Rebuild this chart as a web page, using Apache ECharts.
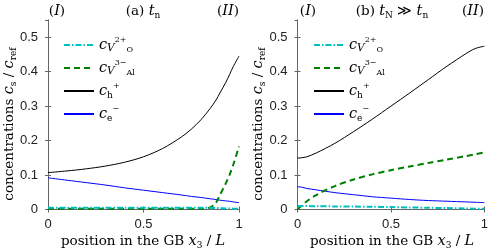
<!DOCTYPE html>
<html><head><meta charset="utf-8">
<script src="https://cdn.jsdelivr.net/npm/echarts@6/dist/echarts.min.js"></script>
<style>html,body{margin:0;padding:0;background:#fff}#c{width:491px;height:250px}</style>
</head><body><div id="c"></div>
<script>
// ---- data ----
const xA = [0, 0.1, 0.2, 0.3, 0.4, 0.5, 0.6, 0.7, 0.75, 0.8, 0.85, 0.88, 0.9, 0.93, 0.95, 0.97, 1.0];
const hA = [0.107, 0.112, 0.118, 0.126, 0.137, 0.153, 0.177, 0.211, 0.233, 0.26, 0.294, 0.318, 0.338, 0.368, 0.391, 0.415, 0.445];
const eA = [0.092, 0.085, 0.078, 0.071, 0.063, 0.056, 0.049, 0.042, 0.038, 0.035, 0.031, 0.029, 0.027, 0.025, 0.024, 0.022, 0.020];
const alA = [0.002, 0.002, 0.002, 0.002, 0.002, 0.002, 0.002, 0.002, 0.002, 0.002, 0.006, 0.02, 0.042, 0.075, 0.10, 0.13, 0.183];
const oA = [0.005, 0.005, 0.005, 0.005, 0.005, 0.005, 0.005, 0.005, 0.005, 0.005, 0.0045, 0.004, 0.004, 0.003, 0.003, 0.0025, 0.002];

const xB = [0, 0.02, 0.05, 0.1, 0.2, 0.3, 0.4, 0.5, 0.6, 0.7, 0.8, 0.9, 0.95, 1.0];
const hB = [0.149, 0.150, 0.153, 0.164, 0.192, 0.226, 0.262, 0.300, 0.338, 0.377, 0.416, 0.452, 0.467, 0.474];
const alB = [0.0, 0.010, 0.024, 0.042, 0.068, 0.087, 0.102, 0.114, 0.125, 0.135, 0.145, 0.155, 0.160, 0.166];
const eB = [0.066, 0.065, 0.061, 0.057, 0.049, 0.043, 0.037, 0.033, 0.029, 0.026, 0.024, 0.022, 0.021, 0.020];
const oB = [0.010, 0.010, 0.010, 0.0095, 0.009, 0.0085, 0.008, 0.007, 0.006, 0.005, 0.004, 0.003, 0.0025, 0.002];

const xMin = 0, xMax = 1, xStep = 0.5;
const yMin = 0, yMax = 0.55, yStep = 0.1;
const seriesNames = ['VO', 'VAl', 'h', 'e'];
const panelTitles = ['(a)', '(b)'];

// ---- styles ----
const SERIF = 'DejaVu Serif';
const SANS = 'Liberation Sans';
const rich = {
  n: {fontFamily: SERIF, fontSize: 13.5, color: '#000', lineHeight: 18, verticalAlign: 'middle'},
  i: {fontFamily: SERIF, fontStyle: 'italic', fontSize: 14.5, color: '#000', lineHeight: 18, verticalAlign: 'middle'},
  si: {fontFamily: SERIF, fontStyle: 'italic', fontSize: 10.5, color: '#000', lineHeight: 13, verticalAlign: 'bottom'},
  s: {fontFamily: SERIF, fontSize: 9, color: '#000', lineHeight: 11, verticalAlign: 'bottom'},
  sup: {fontFamily: SERIF, fontSize: 8, color: '#000', lineHeight: 13, verticalAlign: 'top'},
  sub2: {fontFamily: SERIF, fontSize: 8, color: '#000', lineHeight: 8, verticalAlign: 'bottom'}
};
const legendText = {
  VO: '{i|c}{si|V}{sup|2+}{sub2|O}',
  VAl: '{i|c}{si|V}{sup|3−}{sub2|Al}',
  h: '{i|c}{s|h}{sup|+}',
  e: '{i|c}{s|e}{sup|−}'
};
const colors = {VO: '#00BFBF', VAl: '#008000', h: '#000000', e: '#0000FF'};
const lstyle = {
  VO: {width: 2, type: [6, 2, 1.5, 2]},
  VAl: {width: 2, type: [6, 4]},
  h: {width: 1, type: 'solid'},
  e: {width: 1, type: 'solid'}
};

const grids = [
  {left: 48, top: 20, width: 191, height: 189.5},
  {left: 297.5, top: 20, width: 190, height: 189.5}
];
const axisCol = '#666';
function xAxes(gi) {
  return [
    {type: 'value', gridIndex: gi, min: xMin, max: xMax, interval: xStep, position: 'bottom',
     axisLine: {show: true, lineStyle: {color: axisCol, width: 1}},
     axisTick: {show: true, inside: true, length: 3, lineStyle: {color: axisCol}},
     axisLabel: {fontFamily: SANS, fontSize: 13, color: '#222', margin: 8},
     splitLine: {show: false}},
    {type: 'value', gridIndex: gi, min: xMin, max: xMax, interval: xStep, position: 'top',
     axisLine: {show: true, lineStyle: {color: axisCol, width: 1}},
     axisTick: {show: true, inside: true, length: 3, lineStyle: {color: axisCol}},
     axisLabel: {show: false}, splitLine: {show: false}}
  ];
}
function yAxes(gi) {
  return [
    {type: 'value', gridIndex: gi, min: yMin, max: yMax, interval: yStep, position: 'left',
     axisLine: {show: true, lineStyle: {color: axisCol, width: 1}},
     axisTick: {show: true, inside: true, length: 3, lineStyle: {color: axisCol}},
     axisLabel: {fontFamily: SANS, fontSize: 13, color: '#222', margin: 10, showMaxLabel: false,
       formatter: v => (v > 0.5001 ? '' : String(+v.toFixed(2)))},
     splitLine: {show: false}},
    {type: 'value', gridIndex: gi, min: yMin, max: yMax, interval: yStep, position: 'right',
     axisLine: {show: true, lineStyle: {color: axisCol, width: 1}},
     axisTick: {show: true, inside: true, length: 3, lineStyle: {color: axisCol}},
     axisLabel: {show: false}, splitLine: {show: false}}
  ];
}
const panels = [
  {x: xA, VO: oA, VAl: alA, h: hA, e: eA},
  {x: xB, VO: oB, VAl: alB, h: hB, e: eB}
];
const series = [];
panels.forEach((p, gi) => {
  ['e', 'h', 'VAl', 'VO'].forEach(k => {
    series.push({
      name: k, type: 'line', xAxisIndex: gi * 2, yAxisIndex: gi * 2,
      data: p.x.map((xv, j) => [xv, p[k][j]]),
      showSymbol: false, symbol: 'none', smooth: 0.3, animation: false,
      lineStyle: {color: colors[k], width: lstyle[k].width, type: lstyle[k].type},
      itemStyle: {color: colors[k]}, z: 2
    });
  });
});
function legend(left) {
  return {
    show: true, left: left, top: 31, orient: 'vertical', itemWidth: 30, itemHeight: 10, itemGap: 5,
    data: seriesNames, selectedMode: false,
    itemStyle: {opacity: 0},
    formatter: n => legendText[n],
    textStyle: {rich: rich}
  };
}
function txt(x, y, text, extra) {
  return Object.assign({type: 'text', x: x, y: y, silent: true,
    style: {text: text, rich: rich, align: 'center', verticalAlign: 'middle'}}, extra || {});
}
const yName = '{n|concentrations }{i|c}{s|s}{n| / }{i|c}{s|ref}';
const xName = '{n|position in the GB }{i|x}{s|3}{n| / }{i|L}';
const graphic = [
  txt(57, 11, '{n|(}{i|I}{n|)}'),
  txt(143, 11, '{n|' + panelTitles[0] + ' }{i|t}{s|n}'),
  txt(228, 11, '{n|(}{i|II}{n|)}'),
  txt(308, 11, '{n|(}{i|I}{n|)}'),
  txt(392, 11, '{n|' + panelTitles[1] + ' }{i|t}{s|N}{n| ≫ }{i|t}{s|n}'),
  txt(473, 11, '{n|(}{i|II}{n|)}'),
  txt(143, 241, xName),
  txt(392, 241, xName),
  txt(9, 124, yName, {rotation: Math.PI / 2}),
  txt(258, 124, yName, {rotation: Math.PI / 2})
];
const chart = echarts.init(document.getElementById('c'), null, {renderer: 'canvas'});
chart.setOption({
  animation: false,
  backgroundColor: '#fff',
  grid: grids,
  xAxis: xAxes(0).concat(xAxes(1)),
  yAxis: yAxes(0).concat(yAxes(1)),
  legend: [legend(58), legend(308)],
  series: series,
  graphic: graphic
});
</script></body></html>
